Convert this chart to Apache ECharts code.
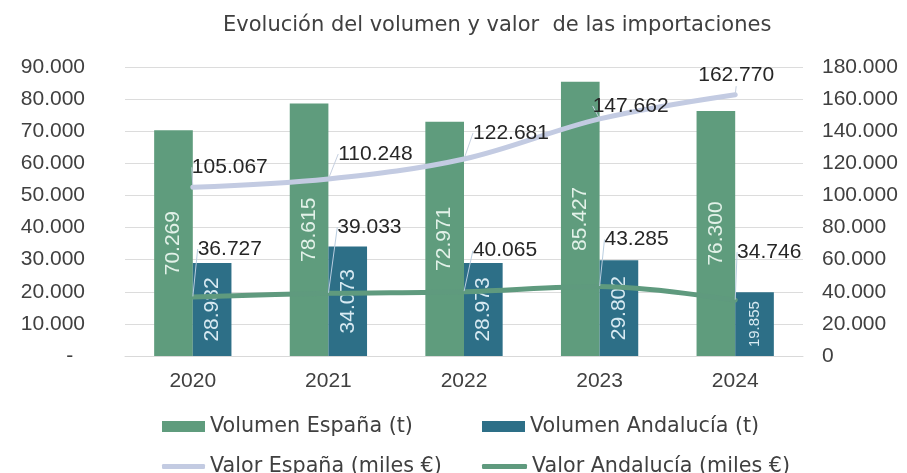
<!DOCTYPE html>
<html><head><meta charset="utf-8">
<script src="https://cdn.jsdelivr.net/npm/echarts@6/dist/echarts.min.js"></script>
<style>html,body{margin:0;padding:0;background:#fff}#c{width:907px;height:473px}</style>
</head><body><div id="c"></div>
<script>
// ---- data ----
const categories = ['2020', '2021', '2022', '2023', '2024'];
const volumenEspana = [70269, 78615, 72971, 85427, 76300];
const volumenAndalucia = [28982, 34073, 28973, 29802, 19855];
const valorEspana = [105067, 110248, 122681, 147662, 162770];
const valorAndalucia = [36727, 39033, 40065, 43285, 34746];
const seriesNames = ['Volumen España (t)', 'Volumen Andalucía (t)', 'Valor España (miles €)', 'Valor Andalucía (miles €)'];
const titleText = 'Evolución del volumen y valor  de las importaciones';

// ---- styling (label shifts, px) ----
const shiftValEsp = [[37, -4], [47, -9], [47, -10], [31, 3], [1, -3]];
const shiftValAnd = [[37, -32], [41, -50], [41, -25], [37, -31], [34, -32]];

const fmt = v => String(Math.round(v)).replace(/\B(?=(\d{3})+(?!\d))/g, '.');
const NUM = 'Liberation Sans';
const TXT = 'DejaVu Sans';
const C_ESP = '#5f9c7d', C_AND = '#2d6f87', C_VESP = '#c3cbe2', C_VAND = '#5f9a7e';

const chart = echarts.init(document.getElementById('c'), null, {renderer: 'canvas'});
const legendBase = {itemGap: 0, textStyle: {fontFamily: TXT, fontSize: 20.7, color: '#404040'}, selectedMode: false};
chart.setOption({
  backgroundColor: '#ffffff',
  animation: false,
  title: {text: titleText, left: 218, top: 10,
    textStyle: {fontFamily: TXT, fontSize: 21, fontWeight: 'normal', color: '#404040'}},
  grid: {left: 125, right: 104, top: 67, bottom: 117, containLabel: false},
  legend: [
    Object.assign({}, legendBase, {data: [{name: seriesNames[0], icon: 'rect'}], left: 157, top: 411, itemWidth: 43, itemHeight: 11}),
    Object.assign({}, legendBase, {data: [{name: seriesNames[1], icon: 'rect'}], left: 477, top: 411, itemWidth: 43, itemHeight: 11}),
    Object.assign({}, legendBase, {data: [{name: seriesNames[2], icon: 'roundRect'}], left: 157, top: 451, itemWidth: 43, itemHeight: 5}),
    Object.assign({}, legendBase, {data: [{name: seriesNames[3], icon: 'roundRect'}], left: 477, top: 451, itemWidth: 45, itemHeight: 5})
  ],
  xAxis: {type: 'category', data: categories,
    axisLine: {lineStyle: {color: '#d9d9d9', width: 1}}, axisTick: {show: false},
    axisLabel: {fontFamily: NUM, fontSize: 21, color: '#404040', margin: 15}},
  yAxis: [
    {type: 'value', min: 0, max: 90000, interval: 10000,
      axisLine: {show: false}, axisTick: {show: false},
      splitLine: {lineStyle: {color: '#dcdcdc', width: 1}},
      axisLabel: {fontFamily: NUM, fontSize: 21, color: '#404040', margin: 40,
        formatter: v => v === 0 ? '-  ' : fmt(v)}},
    {type: 'value', min: 0, max: 180000, interval: 20000, position: 'right',
      axisLine: {show: false}, axisTick: {show: false}, splitLine: {show: false},
      axisLabel: {fontFamily: NUM, fontSize: 21, color: '#404040', margin: 19,
        formatter: v => fmt(v)}}
  ],
  series: [
    {name: seriesNames[0], type: 'bar', data: volumenEspana, yAxisIndex: 0,
      barGap: '0%', barCategoryGap: '43%', itemStyle: {color: C_ESP},
      label: {show: true, position: 'inside', rotate: 90, fontFamily: NUM, fontSize: 21, color: '#e2f1e8',
        formatter: p => fmt(p.value)}},
    {name: seriesNames[1], type: 'bar', data: volumenAndalucia, yAxisIndex: 0,
      barGap: '0%', barCategoryGap: '43%', itemStyle: {color: C_AND},
      label: {show: true, position: 'inside', rotate: 90, fontFamily: NUM, fontSize: 21, color: '#d8eaf2',
        formatter: p => p.value < 25000 ? '{s|' + fmt(p.value) + '}' : fmt(p.value),
        rich: {s: {fontFamily: NUM, fontSize: 15, color: '#d8eaf2'}}}},
    {name: seriesNames[2], type: 'line', data: valorEspana, yAxisIndex: 1, smooth: 0.35,
      showSymbol: true, symbol: 'circle', symbolSize: 1, z: 5,
      lineStyle: {color: C_VESP, width: 5, cap: 'round'}, itemStyle: {color: C_VESP},
      label: {show: true, position: 'top', distance: 5, fontFamily: NUM, fontSize: 21, color: '#262626',
        formatter: p => fmt(p.value)},
      labelLine: {show: true, lineStyle: {color: '#c6d0e0', width: 1}},
      labelLayout: p => ({dx: shiftValEsp[p.dataIndex][0], dy: shiftValEsp[p.dataIndex][1]})},
    {name: seriesNames[3], type: 'line', data: valorAndalucia, yAxisIndex: 1, smooth: 0.35,
      showSymbol: true, symbol: 'circle', symbolSize: 1, z: 5,
      lineStyle: {color: C_VAND, width: 5, cap: 'round'}, itemStyle: {color: C_VAND},
      label: {show: true, position: 'top', distance: 5, fontFamily: NUM, fontSize: 21, color: '#262626',
        formatter: p => fmt(p.value)},
      labelLine: {show: true, lineStyle: {color: '#b9cde0', width: 1}},
      labelLayout: p => ({dx: shiftValAnd[p.dataIndex][0], dy: shiftValAnd[p.dataIndex][1]})}
  ]
});
</script>
</body></html>
